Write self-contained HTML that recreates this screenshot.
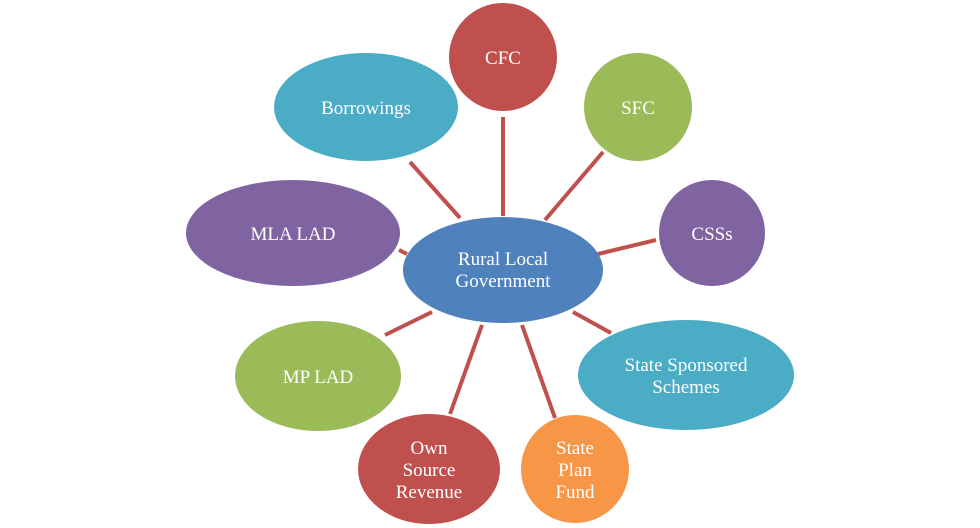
<!DOCTYPE html>
<html><head><meta charset="utf-8"><style>
html,body{margin:0;padding:0;background:#fff;}
svg{display:block;}
text{font-family:"Liberation Serif",serif;font-size:19px;fill:#fff;text-anchor:middle;}
</style></head><body>
<svg width="980" height="528" viewBox="0 0 980 528">
<g stroke="#C0504D" stroke-width="4">
<line x1="503" y1="117" x2="503" y2="216"/>
<line x1="603" y1="152" x2="545" y2="220"/>
<line x1="656" y1="240" x2="598" y2="254"/>
<line x1="573" y1="312" x2="611" y2="333"/>
<line x1="522" y1="325" x2="555" y2="418"/>
<line x1="482" y1="325" x2="450" y2="414"/>
<line x1="432" y1="312" x2="385" y2="335"/>
<line x1="399" y1="250" x2="407" y2="254"/>
<line x1="410" y1="162" x2="460" y2="218"/>
</g>
<g><ellipse cx="503" cy="57" rx="54" ry="54" fill="#C0504D"/><text x="503" y="64">CFC</text></g>
<g><ellipse cx="638" cy="107" rx="54" ry="54" fill="#9BBB59"/><text x="638" y="114">SFC</text></g>
<g><ellipse cx="712" cy="233" rx="53" ry="53" fill="#8064A2"/><text x="712" y="240">CSSs</text></g>
<g><ellipse cx="686" cy="375" rx="108" ry="55" fill="#4BACC6"/><text x="686" y="371">State Sponsored</text><text x="686" y="393">Schemes</text></g>
<g><ellipse cx="575" cy="469" rx="54" ry="54" fill="#F79646"/><text x="575" y="454">State</text><text x="575" y="476">Plan</text><text x="575" y="498">Fund</text></g>
<g><ellipse cx="429" cy="469" rx="71" ry="55" fill="#C0504D"/><text x="429" y="454">Own</text><text x="429" y="476">Source</text><text x="429" y="498">Revenue</text></g>
<g><ellipse cx="318" cy="376" rx="83" ry="55" fill="#9BBB59"/><text x="318" y="383">MP LAD</text></g>
<g><ellipse cx="293" cy="233" rx="107" ry="53" fill="#8064A2"/><text x="293" y="240">MLA LAD</text></g>
<g><ellipse cx="366" cy="107" rx="92" ry="54" fill="#4BACC6"/><text x="366" y="114">Borrowings</text></g>
<g><ellipse cx="503" cy="270" rx="100" ry="53" fill="#4F81BD"/><text x="503" y="265">Rural Local</text><text x="503" y="287">Government</text></g>
</svg>
</body></html>
